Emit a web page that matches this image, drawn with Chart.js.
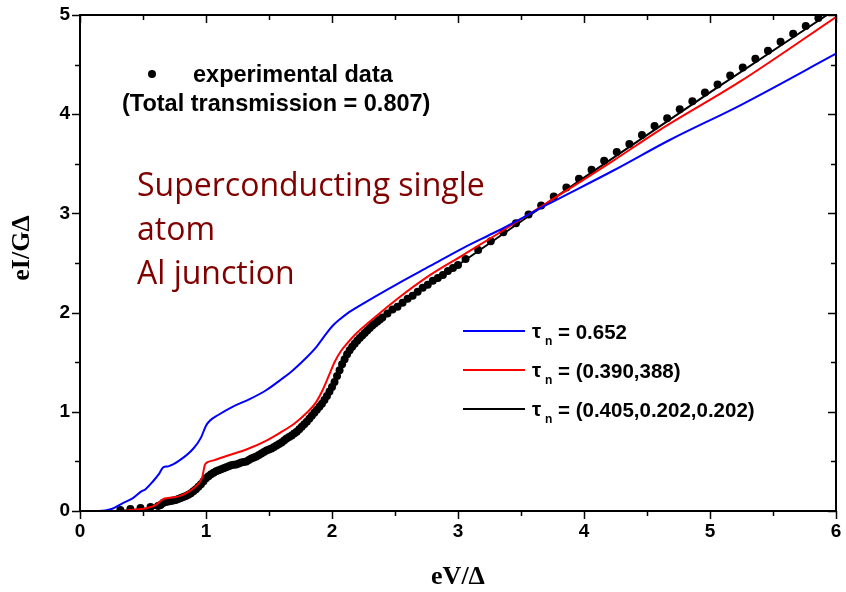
<!DOCTYPE html>
<html>
<head>
<meta charset="utf-8">
<script src="https://cdn.jsdelivr.net/npm/chart.js@4.4.1/dist/chart.umd.min.js"></script>
<style>
  html, body { margin: 0; padding: 0; background: #fff; }
  #wrap { width: 846px; height: 592px; }
</style>
</head>
<body>
<div id="wrap"><canvas id="iv" width="846" height="592"></canvas></div>
<script>
// measured I-V of the Al contact (eV/Δ, eI/GΔ)
const expV = [0.32, 0.40, 0.48, 0.56, 0.62,
  0.64, 0.66, 0.68, 0.70, 0.72, 0.74, 0.76, 0.78, 0.80, 0.82,
  0.84, 0.86, 0.88, 0.90, 0.92, 0.94, 0.96, 0.98, 1.00, 1.02,
  1.04, 1.06, 1.08, 1.10, 1.12, 1.14, 1.16, 1.18, 1.20, 1.22,
  1.24, 1.26, 1.28, 1.30, 1.32, 1.34, 1.36, 1.38, 1.40, 1.42,
  1.44, 1.46, 1.48, 1.50, 1.52, 1.54, 1.56, 1.58, 1.60, 1.62,
  1.64, 1.66, 1.68, 1.70, 1.72, 1.74, 1.76, 1.78, 1.80, 1.82,
  1.84, 1.86, 1.88, 1.90, 1.92, 1.94, 1.96, 1.98, 2.00, 2.02,
  2.04, 2.06, 2.08, 2.10, 2.12, 2.14, 2.16, 2.18, 2.20, 2.22,
  2.24, 2.26, 2.28, 2.30, 2.32, 2.34, 2.36, 2.38, 2.40,
  2.44, 2.48, 2.52, 2.56, 2.60, 2.64, 2.68, 2.72, 2.76, 2.80,
  2.84, 2.88, 2.92, 2.96, 3.00,
  3.06, 3.16, 3.26, 3.36, 3.46, 3.56, 3.66, 3.76, 3.86, 3.96,
  4.06, 4.16, 4.26, 4.36, 4.46, 4.56, 4.66, 4.76, 4.86, 4.96,
  5.06, 5.16, 5.26, 5.36, 5.46, 5.56, 5.66, 5.76, 5.86];
const expI = [0.01, 0.02, 0.03, 0.04, 0.05,
  0.06, 0.08, 0.09, 0.095, 0.10, 0.105, 0.11, 0.12, 0.13, 0.14,
  0.15, 0.165, 0.18, 0.20, 0.22, 0.245, 0.27, 0.30, 0.33, 0.35,
  0.37, 0.385, 0.40, 0.41, 0.42, 0.43, 0.44, 0.45, 0.46, 0.465,
  0.47, 0.48, 0.49, 0.495, 0.50, 0.515, 0.53, 0.54, 0.55, 0.565,
  0.58, 0.595, 0.61, 0.62, 0.63, 0.645, 0.66, 0.675, 0.69, 0.71,
  0.73, 0.745, 0.76, 0.78, 0.80, 0.825, 0.85, 0.875, 0.90, 0.93,
  0.96, 0.99, 1.02, 1.05, 1.08, 1.12, 1.16, 1.205, 1.25, 1.30,
  1.36, 1.42, 1.48, 1.53, 1.58, 1.62, 1.655, 1.685, 1.715, 1.745,
  1.77, 1.795, 1.82, 1.845, 1.87, 1.89, 1.91, 1.93, 1.95,
  1.99, 2.03, 2.06, 2.10, 2.14, 2.17, 2.21, 2.25, 2.28, 2.32,
  2.35, 2.38, 2.42, 2.45, 2.48,
  2.54, 2.63, 2.72, 2.81, 2.90, 2.99, 3.08, 3.17, 3.26, 3.35,
  3.44, 3.53, 3.62, 3.70, 3.79, 3.88, 3.96, 4.05, 4.13, 4.22,
  4.30, 4.39, 4.47, 4.56, 4.64, 4.73, 4.81, 4.89, 4.97];

// single channel, tau = 0.652
const oneV = [0, 0.15, 0.25, 0.34, 0.42, 0.49, 0.52, 0.58, 0.63, 0.66, 0.70, 0.79, 0.90, 0.96,
  1.00, 1.03, 1.10, 1.21, 1.35, 1.48, 1.60, 1.69, 1.80, 1.88, 1.95, 2.00, 2.06, 2.12, 2.22,
  2.52, 2.78, 3.04, 3.31, 3.71, 4.23, 4.68, 5.24, 6.00];
const oneI = [0, 0, 0.02, 0.08, 0.13, 0.20, 0.22, 0.30, 0.38, 0.44, 0.45, 0.51, 0.63, 0.74,
  0.86, 0.91, 0.97, 1.05, 1.13, 1.22, 1.33, 1.42, 1.55, 1.66, 1.78, 1.86, 1.93, 1.99, 2.07,
  2.29, 2.47, 2.65, 2.82, 3.09, 3.43, 3.74, 4.09, 4.61];

// two channels, tau = (0.390, 0.388)
const twoV = [0, 0.28, 0.40, 0.53, 0.60, 0.64, 0.66, 0.70, 0.79, 0.87, 0.93, 0.97, 0.99, 1.01,
  1.06, 1.20, 1.32, 1.48, 1.59, 1.70, 1.80, 1.87, 1.93, 1.98, 2.02, 2.07, 2.12, 2.20, 2.30,
  2.52, 2.78, 3.04, 3.31, 3.71, 4.23, 4.60, 5.24, 6.00];
const twoI = [0, 0, 0.01, 0.03, 0.06, 0.10, 0.12, 0.13, 0.15, 0.20, 0.26, 0.34, 0.46, 0.49,
  0.51, 0.57, 0.62, 0.71, 0.79, 0.88, 0.99, 1.09, 1.23, 1.38, 1.50, 1.61, 1.69, 1.80, 1.91,
  2.14, 2.38, 2.58, 2.79, 3.11, 3.53, 3.84, 4.33, 4.98];

// three channels, tau = (0.405, 0.202, 0.202)
const threeV = [0, 0.30, 0.50, 0.64, 0.67, 0.80, 0.90, 0.97, 1.02, 1.10, 1.30, 1.50, 1.70,
  1.80, 1.90, 1.96, 2.02, 2.08, 2.16, 2.30, 2.60, 3.00, 4.00, 5.00, 6.00];
const threeI = [0, 0, 0.02, 0.05, 0.09, 0.12, 0.18, 0.27, 0.35, 0.40, 0.49, 0.61, 0.78,
  0.90, 1.05, 1.16, 1.30, 1.48, 1.655, 1.85, 2.14, 2.48, 3.36, 4.22, 5.06];

const xMajor = [0, 1, 2, 3, 4, 5, 6];
const xMinor = [0.5, 1.5, 2.5, 3.5, 4.5, 5.5];
const yMajor = [0, 1, 2, 3, 4, 5];
const yMinor = [0.5, 1.5, 2.5, 3.5, 4.5];

const pts = (vs, is) => vs.map((v, i) => ({ x: v, y: is[i] }));

const SANS = '"Liberation Sans", Arial, sans-serif';
const SERIF = '"Liberation Serif", "Times New Roman", serif';

// box, mirrored ticks, tick labels, axis titles and the text blocks
const frame = {
  id: 'frame',
  afterDraw(chart) {
    const { ctx, chartArea: a, scales: { x, y } } = chart;
    ctx.save();
    ctx.strokeStyle = '#000';
    ctx.lineWidth = 2;
    ctx.strokeRect(a.left, a.top, a.right - a.left, a.bottom - a.top);

    ctx.lineWidth = 1.5;
    const seg = (x1, y1, x2, y2) => { ctx.beginPath(); ctx.moveTo(x1, y1); ctx.lineTo(x2, y2); ctx.stroke(); };
    const xt = (v, len) => {
      const p = Math.round(x.getPixelForValue(v)) + 0.5;
      seg(p, a.bottom, p, a.bottom + len);
      seg(p, a.top, p, a.top + len);
    };
    const yt = (v, len) => {
      const p = Math.round(y.getPixelForValue(v)) + 0.5;
      seg(a.left - len, p, a.left, p);
      seg(a.right - len, p, a.right, p);
    };
    xMajor.forEach(v => xt(v, 8));
    xMinor.forEach(v => xt(v, 5));
    yMajor.forEach(v => yt(v, 8));
    yMinor.forEach(v => yt(v, 5));

    // tick labels
    ctx.fillStyle = '#000';
    ctx.font = 'bold 19px ' + SANS;
    ctx.textBaseline = 'middle';
    ctx.textAlign = 'center';
    xMajor.forEach(v => ctx.fillText(String(v), x.getPixelForValue(v), a.bottom + 21));
    ctx.textAlign = 'right';
    yMajor.forEach(v => ctx.fillText(String(v), a.left - 10, y.getPixelForValue(v)));

    // axis titles
    ctx.font = 'bold 26px ' + SERIF;
    ctx.textAlign = 'center';
    ctx.fillText('eV/Δ', (a.left + a.right) / 2, a.bottom + 66);
    ctx.save();
    ctx.translate(a.left - 58, (a.top + a.bottom) / 2 - 15);
    ctx.rotate(-Math.PI / 2);
    ctx.fillText('eI/GΔ', 0, 0);
    ctx.restore();

    // experimental data key
    ctx.textAlign = 'left';
    ctx.textBaseline = 'alphabetic';
    ctx.beginPath();
    ctx.arc(a.left + 72, a.top + 59, 4, 0, Math.PI * 2);
    ctx.fill();
    ctx.font = 'bold 23.5px ' + SANS;
    ctx.fillText('experimental data', a.left + 113, a.top + 67);
    ctx.fillText('(Total transmission = 0.807)', a.left + 42, a.top + 96);

    // fit legend
    const rows = [
      ['#0000ff', '= 0.652'],
      ['#ff0000', '= (0.390,388)'],
      ['#000000', '= (0.405,0.202,0.202)']
    ];
    rows.forEach((r, i) => {
      const ly = a.top + 316 + i * 39;
      ctx.strokeStyle = r[0];
      ctx.lineWidth = 2;
      seg(a.left + 383, ly, a.left + 445, ly);
      ctx.fillStyle = '#000';
      ctx.font = 'bold 20.5px ' + SANS;
      ctx.fillText('τ', a.left + 452, ly + 7);
      ctx.font = 'bold 12px ' + SANS;
      ctx.fillText('n', a.left + 465, ly + 14);
      ctx.font = 'bold 20.5px ' + SANS;
      ctx.fillText(r[1], a.left + 478, ly + 8);
    });

    // sample description
    ctx.fillStyle = '#800000';
    ctx.font = '32px "Open Sans", sans-serif';
    ['Superconducting single', 'atom', 'Al junction'].forEach((t, i) => {
      ctx.fillText(t, a.left + 57, a.top + 181 + i * 44);
    });
    ctx.restore();
  }
};

new Chart(document.getElementById('iv'), {
  type: 'line',
  data: {
    datasets: [
      { data: pts(oneV, oneI), borderColor: '#0000ff', borderWidth: 2, pointRadius: 0,
        cubicInterpolationMode: 'monotone', order: 0 },
      { data: pts(twoV, twoI), borderColor: '#ff0000', borderWidth: 2, pointRadius: 0,
        cubicInterpolationMode: 'monotone', order: 1 },
      { data: pts(threeV, threeI), borderColor: '#000000', borderWidth: 2, pointRadius: 0,
        cubicInterpolationMode: 'monotone', order: 2 },
      { data: pts(expV, expI), showLine: false, pointRadius: 4, pointBorderWidth: 0,
        pointBackgroundColor: '#000', order: 3 }
    ]
  },
  options: {
    responsive: false,
    animation: false,
    layout: { padding: { top: 15, right: 10, left: 0, bottom: 0 } },
    plugins: { legend: { display: false }, tooltip: { enabled: false } },
    scales: {
      x: {
        type: 'linear', min: 0, max: 6,
        afterFit: s => { s.height = 81; },
        grid: { display: false, drawTicks: false },
        border: { display: false },
        ticks: { display: false }
      },
      y: {
        type: 'linear', min: 0, max: 5,
        afterFit: s => { s.width = 80; },
        grid: { display: false, drawTicks: false },
        border: { display: false },
        ticks: { display: false }
      }
    }
  },
  plugins: [frame]
});
</script>
</body>
</html>
